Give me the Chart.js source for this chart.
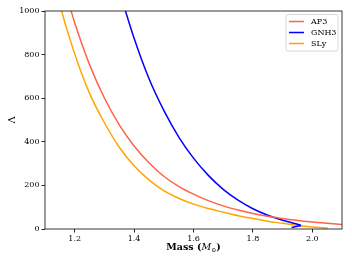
<!DOCTYPE html>
<html>
<head>
<meta charset="utf-8">
<script src="https://cdn.jsdelivr.net/npm/chart.js@4.4.1/dist/chart.umd.min.js"></script>
<style>
  html, body { margin: 0; padding: 0; background: #fff; }
  #wrap { width: 352px; height: 264px; }
</style>
</head>
<body>
<div id="wrap"><canvas id="tidal"></canvas></div>
<script>
// values
const seriesNames = ['AP3', 'GNH3', 'SLy'];

const ap3Mass   = [1.175, 1.188, 1.20, 1.25, 1.30, 1.35, 1.40, 1.45, 1.50, 1.55, 1.60, 1.65, 1.70, 1.75, 1.80, 1.85, 1.90, 1.95, 2.00, 2.05, 2.10, 2.15];
const ap3Lambda = [1060, 1000, 946, 754, 601, 478, 381, 304, 242, 196, 160, 130, 106, 87, 71, 58, 48, 39, 32, 26, 21, 17];

// stable branch, then the short hook back past the maximum mass
const gnh3Mass   = [1.360, 1.371, 1.40, 1.45, 1.50, 1.55, 1.60, 1.65, 1.70, 1.75, 1.80, 1.85, 1.90, 1.93, 1.95, 1.962];
const gnh3Lambda = [1050, 1000, 875, 690, 544, 423, 325, 246, 182, 132, 93, 63, 40, 29, 22, 16];
const gnh3HookMass   = [1.962, 1.930];
const gnh3HookLambda = [16, 7];

const slyMass   = [1.145, 1.156, 1.182, 1.213, 1.25, 1.295, 1.35, 1.40, 1.45, 1.50, 1.55, 1.60, 1.65, 1.70, 1.75, 1.80, 1.85, 1.90, 1.95, 2.00, 2.052];
const slyLambda = [1060, 1000, 879, 752, 622, 500, 375, 290, 225, 176, 141, 114, 94, 77, 61, 48, 36, 26, 16, 9, 4];

const xTicks = [1.2, 1.4, 1.6, 1.8, 2.0];
const yTicks = [0, 200, 400, 600, 800, 1000];

const colors = ['#ff6347', '#0000ff', '#ffa500'];

function pts(xs, ys) {
  return xs.map((x, i) => ({ x: x, y: ys[i] }));
}

const serif = 'DejaVu Serif';

// frame on all four sides, x title with italic M, matplotlib style legend
const framePlugin = {
  id: 'frame',
  afterDraw(chart) {
    const { ctx, chartArea: a } = chart;
    ctx.save();
    ctx.strokeStyle = '#222';
    ctx.lineWidth = 0.9;
    ctx.strokeRect(a.left, a.top, a.right - a.left, a.bottom - a.top);

    // x axis title: Mass (M_sun)
    const parts = [
      { t: 'Mass (', f: 'bold 9.5px "' + serif + '"', dy: 0 },
      { t: 'M', f: 'italic 9.5px "' + serif + '"', dy: 0 },
      { t: '\u2299', f: '6px "' + serif + '"', dy: 2 },
      { t: ')', f: 'bold 9.5px "' + serif + '"', dy: 0 }
    ];
    let total = 0;
    parts.forEach(p => { ctx.font = p.f; p.w = ctx.measureText(p.t).width; total += p.w; });
    let x = (a.left + a.right) / 2 - total / 2;
    const yBase = 250;
    ctx.fillStyle = '#000';
    ctx.textAlign = 'left';
    ctx.textBaseline = 'alphabetic';
    parts.forEach(p => { ctx.font = p.f; ctx.fillText(p.t, x, yBase + p.dy); x += p.w; });

    // legend
    const bx = a.right - 56, by = a.top + 3.5, bw = 52, bh = 36.5;
    ctx.fillStyle = 'rgba(255,255,255,0.85)';
    ctx.strokeStyle = '#d6d6d6';
    ctx.lineWidth = 1;
    ctx.beginPath();
    ctx.roundRect(bx, by, bw, bh, 2);
    ctx.fill();
    ctx.stroke();
    ctx.font = '8px "' + serif + '"';
    ctx.textBaseline = 'middle';
    seriesNames.forEach((name, i) => {
      const y = by + 7 + i * 11;
      ctx.strokeStyle = colors[i];
      ctx.lineWidth = 1.5;
      ctx.beginPath();
      ctx.moveTo(bx + 3, y);
      ctx.lineTo(bx + 18, y);
      ctx.stroke();
      ctx.fillStyle = '#000';
      ctx.fillText(name, bx + 25, y + 0.5);
    });
    ctx.restore();
  }
};

const lineStyle = {
  showLine: true,
  pointRadius: 0,
  borderWidth: 1.5,
  cubicInterpolationMode: 'monotone'
};

new Chart(document.getElementById('tidal'), {
  type: 'scatter',
  data: {
    datasets: [
      Object.assign({ label: seriesNames[0], data: pts(ap3Mass, ap3Lambda), borderColor: colors[0] }, lineStyle),
      Object.assign({ label: seriesNames[1], data: pts(gnh3Mass, gnh3Lambda), borderColor: colors[1] }, lineStyle),
      Object.assign({ label: seriesNames[1], data: pts(gnh3HookMass, gnh3HookLambda), borderColor: colors[1] }, lineStyle, { cubicInterpolationMode: 'default', tension: 0 }),
      Object.assign({ label: seriesNames[2], data: pts(slyMass, slyLambda), borderColor: colors[2] }, lineStyle)
    ]
  },
  options: {
    responsive: true,
    maintainAspectRatio: false,
    animation: false,
    layout: { padding: { top: 11, right: 10, left: 0, bottom: 0 } },
    plugins: {
      legend: { display: false },
      tooltip: { enabled: false }
    },
    scales: {
      x: {
        type: 'linear',
        min: 1.1,
        max: 2.1,
        afterBuildTicks: s => { s.ticks = xTicks.map(v => ({ value: v })); },
        afterFit: s => { s.height = 35; },
        grid: { display: true, drawOnChartArea: false, drawTicks: true, tickLength: 3.5, tickColor: '#222' },
        border: { display: false },
        ticks: {
          color: '#000',
          padding: 2,
          maxRotation: 0,
          font: { family: serif, size: 8 },
          callback: v => v.toFixed(1)
        },
        title: { display: false }
      },
      y: {
        min: 0,
        max: 1000,
        afterBuildTicks: s => { s.ticks = yTicks.map(v => ({ value: v })); },
        afterFit: s => { s.width = 45; },
        grid: { display: true, drawOnChartArea: false, drawTicks: true, tickLength: 3.5, tickColor: '#222' },
        border: { display: false },
        ticks: {
          color: '#000',
          padding: 2,
          font: { family: serif, size: 8 },
          callback: v => String(v)
        },
        title: {
          display: true,
          text: '\u039b',
          color: '#000',
          padding: { top: 6, bottom: 0 },
          font: { family: serif, size: 10 }
        }
      }
    }
  },
  plugins: [framePlugin]
});
</script>
</body>
</html>
